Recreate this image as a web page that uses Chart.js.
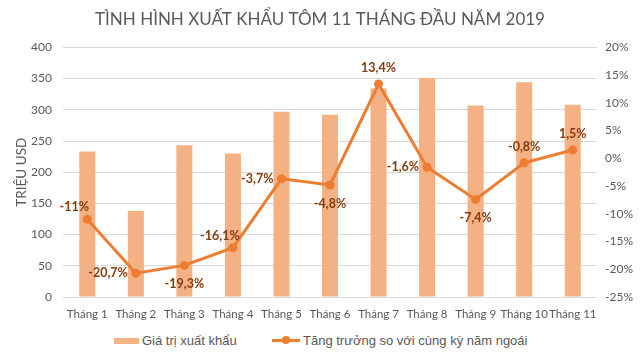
<!DOCTYPE html>
<html>
<head>
<meta charset="utf-8">
<script src="https://cdn.jsdelivr.net/npm/chart.js@4.4.0/dist/chart.umd.min.js"></script>
<style>
  body { margin: 0; background: #fff; }
  #wrap { position: relative; width: 640px; height: 359px; }
  #box { position: absolute; left: 0; top: 0; width: 640px; height: 325px; }
  #legend { position: absolute; left: 0; top: 332px; width: 640px; height: 20px;
    font: 13px "Liberation Sans", Arial, sans-serif; color: #595959; }
  .item { position: absolute; top: 0; line-height: 18px; white-space: nowrap; }
  .sw { display: inline-block; vertical-align: middle; margin-right: 3px; position: relative; }
</style>
</head>
<body>
<div id="wrap">
  <div id="box"><canvas id="chart"></canvas></div>
  <div id="legend">
    <div class="item" style="left:114px"><span class="sw" style="width:25px;height:6px;background:#f4b183;top:-1px"></span>Giá trị xuất khẩu</div>
    <div class="item" style="left:272px"><span class="sw" style="width:28px;height:3px;background:#ed7d31;top:-1px"><span style="position:absolute;left:10px;top:-3px;width:8px;height:8px;border-radius:50%;background:#ed7d31"></span></span>Tăng trưởng so với cùng kỳ năm ngoái</div>
  </div>
</div>
<script>
// Données du graphique
const months = ['Tháng 1', 'Tháng 2', 'Tháng 3', 'Tháng 4', 'Tháng 5', 'Tháng 6',
  'Tháng 7', 'Tháng 8', 'Tháng 9', 'Tháng 10', 'Tháng 11'];
const exportValue = [233, 138, 243, 230, 297, 292, 334, 351, 307, 344, 308];
const growth = [-11, -20.7, -19.3, -16.1, -3.7, -4.8, 13.4, -1.6, -7.4, -0.8, 1.5];
// Placement des étiquettes de la courbe
const labelPlace = ['upleft', 'left', 'below', 'upleft', 'left', 'below',
  'above', 'left', 'below', 'above', 'above'];

const tickFont = { family: 'Lato, "Noto Sans", sans-serif', size: 12 };

// Étiquettes des points de la courbe
const lineLabels = {
  id: 'lineLabels',
  afterDatasetsDraw(chart) {
    const ctx = chart.ctx;
    const meta = chart.getDatasetMeta(1);
    ctx.save();
    ctx.font = 'bold 12.5px Lato, "Noto Sans", sans-serif';
    ctx.fillStyle = '#843c0c';
    ctx.textAlign = 'center';
    ctx.textBaseline = 'middle';
    meta.data.forEach((pt, i) => {
      const txt = String(growth[i]).replace('.', ',') + '%';
      const w = ctx.measureText(txt).width;
      let x = pt.x, y = pt.y;
      switch (labelPlace[i]) {
        case 'above': y -= 16; break;
        case 'below': y += 19; break;
        case 'left': x -= w / 2 + 8; break;
        case 'upleft': x -= 13; y -= 12; break;
      }
      ctx.fillText(txt, x, y);
    });
    ctx.restore();
  }
};

new Chart(document.getElementById('chart'), {
  type: 'bar',
  data: {
    labels: months,
    datasets: [{
      label: 'Giá trị xuất khẩu',
      data: exportValue,
      backgroundColor: '#f4b183',
      categoryPercentage: 1,
      barPercentage: 0.33,
      yAxisID: 'y',
      order: 2
    }, {
      type: 'line',
      label: 'Tăng trưởng so với cùng kỳ năm ngoái',
      data: growth,
      borderColor: '#ed7d31',
      backgroundColor: '#ed7d31',
      borderWidth: 3,
      pointRadius: 4.5,
      pointBackgroundColor: '#ed7d31',
      pointBorderWidth: 0,
      tension: 0,
      yAxisID: 'y1',
      order: 1
    }]
  },
  options: {
    responsive: true,
    maintainAspectRatio: false,
    animation: false,
    layout: { padding: 0 },
    plugins: {
      legend: { display: false },
      tooltip: { enabled: false },
      title: {
        display: true,
        text: 'TÌNH HÌNH XUẤT KHẨU TÔM 11 THÁNG ĐẦU NĂM 2019',
        color: '#595959',
        font: { family: 'Lato, "Noto Sans", sans-serif', size: 17, weight: 'normal' },
        padding: { top: 9, bottom: 18 }
      }
    },
    scales: {
      x: {
        grid: { display: false },
        border: { display: false },
        ticks: { color: '#595959', font: { family: 'Lato, "Noto Sans", sans-serif', size: 11.5 },
          padding: 2, maxRotation: 0, autoSkip: false },
        afterFit(scale) { scale.height = 28; }
      },
      y: {
        position: 'left',
        min: 0, max: 400,
        ticks: { stepSize: 50, color: '#595959', font: tickFont, padding: 11 },
        grid: { color: '#d9d9d9', drawTicks: false },
        border: { display: false },
        title: { display: true, text: 'TRIỆU USD', color: '#595959',
          font: { family: 'Lato, "Noto Sans", sans-serif', size: 13.5 }, padding: { top: 14, bottom: 0 } },
        afterFit(scale) { scale.width = 63; }
      },
      y1: {
        position: 'right',
        min: -25, max: 20,
        ticks: { stepSize: 5, color: '#595959', font: tickFont, padding: 8,
          callback: v => v + '%' },
        grid: { display: false, drawTicks: false },
        border: { display: false },
        afterFit(scale) { scale.width = 43; }
      }
    }
  },
  plugins: [lineLabels]
});
</script>
</body>
</html>
